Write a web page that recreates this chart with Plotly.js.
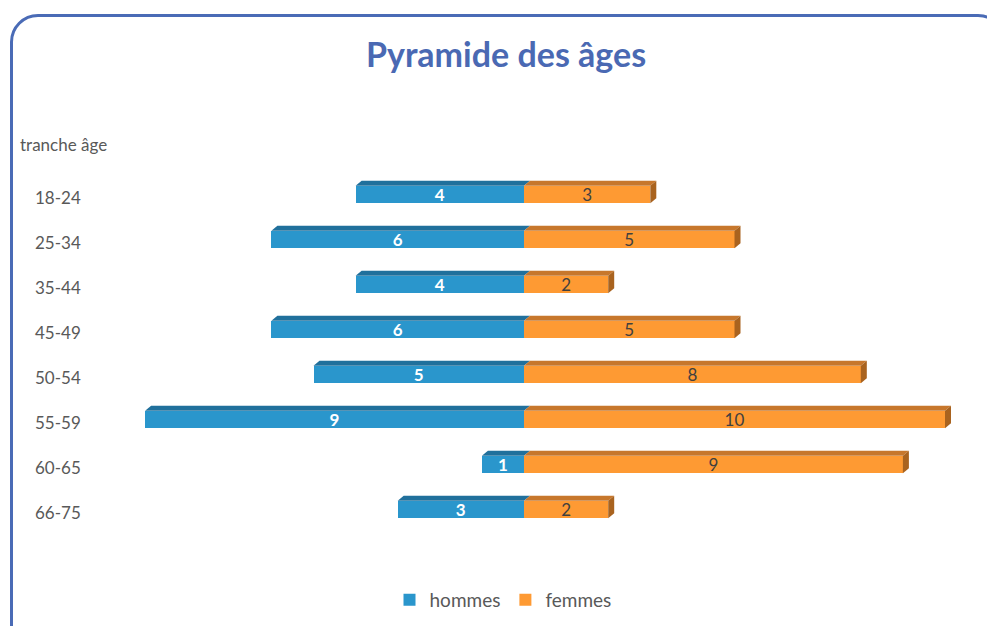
<!DOCTYPE html>
<html>
<head>
<meta charset="utf-8">
<script src="https://cdn.plot.ly/plotly-3.0.1.min.js"></script>
<style>
  html, body { margin: 0; padding: 0; width: 987px; height: 626px; overflow: hidden; background: #fff; }
  #chart { position: absolute; left: 0; top: 0; width: 987px; height: 626px; }
  #frame { position: absolute; left: 10px; top: 14px; width: 996px; height: 660px;
           border: 3px solid #4A6BB6; border-radius: 28px; box-sizing: border-box; pointer-events: none; }
</style>
</head>
<body>
<div id="chart"></div>
<div id="frame"></div>
<script>
const categories = ["18-24", "25-34", "35-44", "45-49", "50-54", "55-59", "60-65", "66-75"];
const hommes = [4, 6, 4, 6, 5, 9, 1, 3];
const femmes = [3, 5, 2, 5, 8, 10, 9, 2];
const seriesNames = ["hommes", "femmes"];
const chartTitle = "Pyramide des âges";
const axisLabel = "tranche âge";

const W = 987, H = 626;
const mL = 120, mR = 27, mT = 172, mB = 94;
const pxPerUnit = 42.1;
const zeroPx = 524;
const xMin = -(zeroPx - mL) / pxPerUnit;
const xMax = (W - mR - zeroPx) / pxPerUnit;
const plotW = W - mL - mR;

const idx = categories.map((c, i) => i);
const barW = 0.39;
const dx = 6 / pxPerUnit;   // depth offset in x units
const dy = 5 / 45;          // depth offset in category units

const FONT = "Lato, 'Open Sans', sans-serif";
const blue = "#2A96CC", orange = "#FE9A33";
const blueTop = "#20709C", orangeTop = "#C7772C", orangeSide = "#A9631F";

const traces = [
  {
    type: "bar", orientation: "h", name: seriesNames[0],
    y: idx, x: hommes.map(v => -v), width: barW,
    text: hommes.map(String), textposition: "inside", insidetextanchor: "middle", textangle: 0,
    constraintext: "none",
    textfont: { family: FONT, size: 17, color: "#ffffff", weight: "bold" },
    marker: { color: blue, line: { width: 0 } }, hoverinfo: "skip", cliponaxis: false
  },
  {
    type: "bar", orientation: "h", name: seriesNames[1],
    y: idx, x: femmes, width: barW,
    text: femmes.map(String), textposition: "inside", insidetextanchor: "middle", textangle: 0,
    constraintext: "none",
    textfont: { family: FONT, size: 17, color: "#404040" },
    marker: { color: orange, line: { width: 0 } }, hoverinfo: "skip", cliponaxis: false
  }
];

// 3D faces built from the data arrays
const shapes = [];
idx.forEach(i => {
  const yT = i - barW / 2, yB = i + barW / 2;
  const x0 = -hommes[i], x1 = femmes[i];
  shapes.push({ type: "path", xref: "x", yref: "y", layer: "above", line: { width: 0 }, fillcolor: blueTop,
    path: `M ${x0} ${yT} L 0 ${yT} L ${dx} ${yT - dy} L ${x0 + dx} ${yT - dy} Z` });
  shapes.push({ type: "path", xref: "x", yref: "y", layer: "above", line: { width: 0 }, fillcolor: orangeTop,
    path: `M 0 ${yT} L ${x1} ${yT} L ${x1 + dx} ${yT - dy} L ${dx} ${yT - dy} Z` });
  shapes.push({ type: "path", xref: "x", yref: "y", layer: "above", line: { width: 0 }, fillcolor: orangeSide,
    path: `M ${x1} ${yT} L ${x1 + dx} ${yT - dy} L ${x1 + dx} ${yB - dy} L ${x1} ${yB} Z` });
});

// category labels, left-aligned like the reference
const annotations = categories.map((c, i) => ({
  text: c, xref: "paper", yref: "y", x: (33 - mL) / plotW, y: i,
  xanchor: "left", yanchor: "middle", yshift: -3, showarrow: false,
  font: { family: FONT, size: 17, color: "#595959" }
}));
annotations.push({
  text: axisLabel, xref: "paper", yref: "paper",
  x: (18 - mL) / plotW, y: 1 + (mT - 144) / (H - mT - mB),
  xanchor: "left", yanchor: "middle", showarrow: false,
  font: { family: FONT, size: 17, color: "#595959" }
});

const layout = {
  width: W, height: H,
  margin: { l: mL, r: mR, t: mT, b: mB, pad: 0 },
  paper_bgcolor: "rgba(0,0,0,0)", plot_bgcolor: "rgba(0,0,0,0)",
  font: { family: FONT, color: "#595959" },
  title: {
    text: chartTitle, xref: "container", yref: "container",
    x: 506 / W, y: 1 - 55 / H, xanchor: "center", yanchor: "middle",
    font: { family: FONT, size: 34, color: "#4A69B3", weight: "bold" }
  },
  barmode: "relative", bargap: 0,
  xaxis: { range: [xMin, xMax], showgrid: false, zeroline: false, showticklabels: false, showline: false, fixedrange: true },
  yaxis: {
    range: [7.5, -0.5], tickmode: "array", tickvals: idx, ticktext: categories,
    showgrid: false, zeroline: false, showline: false, ticks: "", showticklabels: false, fixedrange: true
  },
  showlegend: true,
  legend: {
    orientation: "h", xref: "container", yref: "container",
    x: 503 / W, y: 1 - 600 / H, xanchor: "center", yanchor: "middle",
    font: { family: FONT, size: 19, color: "#595959" }, itemwidth: 30, tracegroupgap: 0
  },
  annotations: annotations,
  shapes: shapes
};

Plotly.newPlot("chart", traces, layout, { displayModeBar: false, staticPlot: true });
</script>
</body>
</html>
